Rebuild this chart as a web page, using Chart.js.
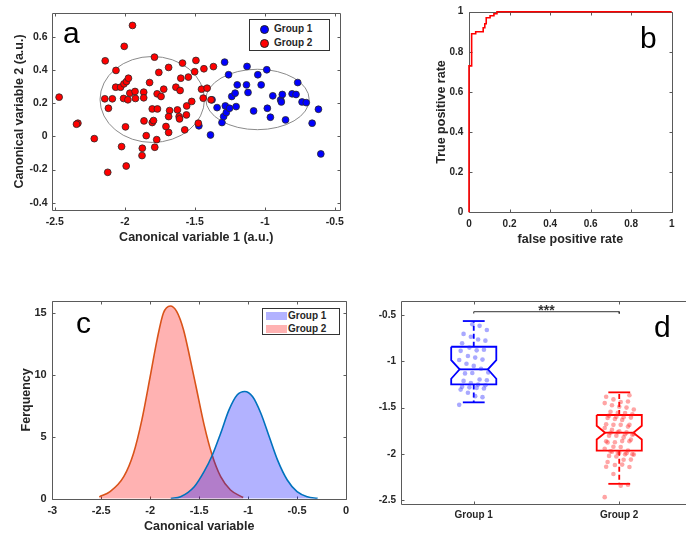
<!DOCTYPE html>
<html>
<head>
<meta charset="utf-8">
<script src="https://cdn.jsdelivr.net/npm/chart.js@4.4.1/dist/chart.umd.min.js"></script>
<style>
  html, body { margin: 0; padding: 0; background: #fff; overflow: hidden; width: 686px; height: 533px; }
  canvas { position: absolute; }
  .letter { position: absolute; font-family: "Liberation Sans", Arial, sans-serif; font-size: 30px; line-height: 30px; color: #000; }
  .legend { position: absolute; box-sizing: border-box; border: 1px solid #333; background: #fff;
            font: bold 10px "Liberation Sans", Arial, sans-serif; color: #262626; }
  .legend span { position: absolute; line-height: 10px; }
</style>
</head>
<body>
<canvas id="chartA" width="350" height="250" style="left:0;top:0"></canvas>
<canvas id="chartB" width="286" height="250" style="left:400px;top:0"></canvas>
<canvas id="chartC" width="360" height="256" style="left:0;top:280px"></canvas>
<canvas id="chartD" width="340" height="253" style="left:360px;top:280px"></canvas>

<div class="letter" style="left:63px;top:18px">a</div>
<div class="letter" style="left:640px;top:23px">b</div>
<div class="letter" style="left:76px;top:308px">c</div>
<div class="letter" style="left:654px;top:312px">d</div>

<div class="legend" style="left:249px;top:19px;width:81px;height:32px">
  <span style="left:10px;top:5px;width:7px;height:7px;border-radius:50%;background:#0000ff;border:1px solid #222"></span>
  <span style="left:24px;top:4px">Group 1</span>
  <span style="left:10px;top:19px;width:7px;height:7px;border-radius:50%;background:#ff0000;border:1px solid #222"></span>
  <span style="left:24px;top:18px">Group 2</span>
</div>
<div class="legend" style="left:262px;top:308px;width:78px;height:27px">
  <span style="left:3px;top:3px;width:21px;height:8px;background:rgb(178,178,255)"></span>
  <span style="left:25px;top:2px">Group 1</span>
  <span style="left:3px;top:16px;width:21px;height:8px;background:rgb(255,178,178)"></span>
  <span style="left:25px;top:15px">Group 2</span>
</div>

<script>
// panel a: canonical variables of each sample
const group1Cv1 = [-1.471, -1.388, -1.377, -1.341, -1.306, -1.294, -1.287, -1.282, -1.275, -1.259,
                   -1.252, -1.236, -1.212, -1.205, -1.197, -1.127, -1.131, -1.12, -1.08, -1.05,
                   -1.026, -0.986, -0.982, -0.96, -0.943, -0.887, -0.875, -0.882, -0.852, -0.805,
                   -0.777, -0.765, -0.734, -0.704, -0.662, -0.617, -0.6];
const group1Cv2 = [0.063, 0.008, 0.22, 0.173, 0.083, 0.119, 0.447, 0.183, 0.143, 0.371,
                   0.169, 0.24, 0.26, 0.179, 0.31, 0.421, 0.31, 0.264, 0.153, 0.371,
                   0.31, 0.401, 0.169, 0.115, 0.244, 0.22, 0.252, 0.207, 0.099, 0.256,
                   0.252, 0.324, 0.207, 0.203, 0.079, 0.163, -0.106];
const group2Cv1 = [-2.469, -2.335, -2.345, -2.218, -2.14, -2.143, -2.117, -2.122, -2.089, -2.063,
                   -2.065, -2.03, -2.023, -2.004, -2.006, -1.988, -1.974, -2.009, -1.995, -1.99,
                   -1.978, -1.945, -1.964, -1.927, -1.924, -1.865, -1.865, -1.863, -1.875, -1.877,
                   -1.847, -1.823, -1.804, -1.804, -1.795, -1.788, -1.767, -1.772, -1.786, -1.769,
                   -1.757, -1.741, -1.722, -1.706, -1.687, -1.687, -1.68, -1.687, -1.635, -1.624,
                   -1.612, -1.609, -1.605, -1.6, -1.588, -1.572, -1.56, -1.558, -1.546, -1.522,
                   -1.501, -1.492, -1.475, -1.452, -1.435, -1.44, -1.412, -1.384, -1.367];
const group2Cv2 = [0.236, 0.079, 0.073, -0.014, 0.455, 0.226, 0.169, -0.217, 0.226, 0.397,
                   0.296, 0.296, -0.062, 0.542, 0.316, 0.33, 0.35, 0.228, 0.057, -0.179,
                   0.22, 0.668, 0.26, 0.27, 0.228, 0.266, 0.232, 0.093, -0.072, -0.116,
                   0.004, 0.324, 0.165, 0.083, 0.095, 0.477, 0.165, -0.02, -0.066, 0.256,
                   0.385, 0.24, 0.284, 0.059, 0.023, 0.415, 0.155, 0.119, 0.296, 0.159,
                   0.119, 0.105, 0.276, 0.35, 0.441, 0.039, 0.129, 0.183, 0.357, 0.21,
                   0.389, 0.457, 0.079, 0.284, 0.407, 0.23, 0.29, 0.22, 0.42];
// confidence ellipses (group 1, group 2)
const ellipseCx = [-1.052, -1.804];
const ellipseCy = [0.222, 0.222];
const ellipseRx = [0.369, 0.373];
const ellipseRy = [0.182, 0.259];

// panel b: ROC curve
const rocFpr = [0, 0, 0.013, 0.013, 0.033, 0.033, 0.07, 0.07, 0.078, 0.078, 0.085, 0.085, 0.104, 0.104, 0.123, 0.123, 0.138, 0.138, 1];
const rocTpr = [0, 0.73, 0.73, 0.89, 0.89, 0.90, 0.90, 0.92, 0.92, 0.94, 0.94, 0.97, 0.97, 0.98, 0.98, 0.99, 0.99, 1, 1];

// panel c: density of the canonical variable
const dens1X = [-1.79, -1.69, -1.55, -1.45, -1.365, -1.28, -1.195, -1.11, -1.035, -0.955, -0.87, -0.785, -0.70, -0.60, -0.50, -0.395, -0.29];
const dens1Y = [0.02, 0.16, 0.97, 2.19, 3.54, 5.3, 7.19, 8.41, 8.68, 8.27, 6.92, 5.03, 3.14, 1.51, 0.57, 0.16, 0.03];
const dens2X = [-2.52, -2.41, -2.27, -2.17, -2.085, -2.0, -1.93, -1.865, -1.795, -1.73, -1.66, -1.59, -1.53, -1.45, -1.37, -1.28, -1.18, -1.05];
const dens2Y = [0.15, 0.57, 1.78, 3.68, 6.38, 9.89, 12.86, 15.03, 15.6, 15.16, 13.68, 11.24, 9.0, 6.0, 3.6, 1.78, 0.70, 0.1];

// panel d: box plot statistics
const groups = ["Group 1", "Group 2"];
const boxQ3 = [-0.843, -1.581];
const boxMedian = [-1.087, -1.772];
const boxQ1 = [-1.25, -1.967];
const notchHigh = [-0.987, -1.697];
const notchLow = [-1.189, -1.845];
const whiskerHigh = [-0.565, -1.336];
const whiskerLow = [-1.444, -2.325];
const sigLevel = -0.464;
const sigText = "***";

// tick labels
const ticksAX = [-2.5, -2, -1.5, -1, -0.5];
const ticksAY = [-0.4, -0.2, 0, 0.2, 0.4, 0.6];
const ticksB = [0, 0.2, 0.4, 0.6, 0.8, 1];
const ticksCX = [-3, -2.5, -2, -1.5, -1, -0.5, 0];
const ticksCY = [0, 5, 10, 15];
const ticksDX = [1, 2];
const ticksDY = [-2.5, -2, -1.5, -1, -0.5];

Chart.defaults.font.family = '"Liberation Sans", Arial, sans-serif';
Chart.defaults.color = "#262626";
Chart.defaults.animation = false;

const TXT = "#262626";
const FRAME = "#5a5a5a";

function axis(o) {
    return {
        type: "linear",
        min: o.min,
        max: o.max,
        grid: { display: false, drawTicks: false },
        border: { display: false },
        afterBuildTicks: s => { s.ticks = o.ticks.map(v => ({ value: v })); },
        afterFit: s => { if (o.vertical) s.width = o.size; else s.height = o.size; },
        ticks: {
            autoSkip: false, maxRotation: 0, padding: o.pad, color: TXT,
            font: { size: o.font, weight: "bold" },
            callback: o.label || (v => String(v))
        },
        title: o.title ? {
            display: true, text: o.title, color: TXT,
            font: { size: o.titleSize || 12.5, weight: "bold" },
            padding: o.vertical ? { top: o.titlePad, bottom: 0 } : { top: 0, bottom: o.titlePad }
        } : { display: false }
    };
}

// box around the plot area with inward ticks
const framePlugin = {
    id: "frame",
    beforeDatasetsDraw(chart) {
        const { ctx, chartArea: a, scales: { x, y } } = chart;
        const L = Math.round(a.left) + 0.5, R = Math.round(a.right) + 0.5;
        const T = Math.round(a.top) + 0.5, B = Math.round(a.bottom) + 0.5;
        ctx.save();
        ctx.strokeStyle = FRAME;
        ctx.lineWidth = 1;
        ctx.beginPath();
        ctx.rect(L, T, R - L, B - T);
        x.ticks.forEach(t => {
            const p = Math.round(x.getPixelForValue(t.value)) + 0.5;
            ctx.moveTo(p, B); ctx.lineTo(p, B - 3);
            ctx.moveTo(p, T); ctx.lineTo(p, T + 3);
        });
        y.ticks.forEach(t => {
            const p = Math.round(y.getPixelForValue(t.value)) + 0.5;
            ctx.moveTo(L, p); ctx.lineTo(L + 3, p);
            ctx.moveTo(R, p); ctx.lineTo(R - 3, p);
        });
        ctx.stroke();
        ctx.restore();
    }
};

const ellipsePlugin = {
    id: "ellipses",
    beforeDatasetsDraw(chart) {
        const { ctx, scales: { x, y } } = chart;
        ctx.save();
        ctx.strokeStyle = "#8a8a8a";
        ctx.lineWidth = 1;
        ellipseCx.forEach((cx, i) => {
            const px = x.getPixelForValue(cx), py = y.getPixelForValue(ellipseCy[i]);
            const rx = Math.abs(x.getPixelForValue(cx + ellipseRx[i]) - px);
            const ry = Math.abs(y.getPixelForValue(ellipseCy[i] + ellipseRy[i]) - py);
            ctx.beginPath();
            ctx.ellipse(px, py, rx, ry, 0, 0, Math.PI * 2);
            ctx.stroke();
        });
        ctx.restore();
    }
};

const sigPlugin = {
    id: "sig",
    afterDatasetsDraw(chart) {
        const { ctx, scales: { x, y } } = chart;
        ctx.save();
        ctx.fillStyle = "#333";
        ctx.font = 'bold 14px "Liberation Sans", Arial, sans-serif';
        ctx.textAlign = "center";
        ctx.textBaseline = "alphabetic";
        ctx.fillText(sigText, x.getPixelForValue(1.5), y.getPixelForValue(sigLevel) + 3);
        ctx.restore();
    }
};

const noPlugins = { legend: { display: false }, tooltip: { enabled: false } };
const pts = (xs, ys) => xs.map((v, i) => ({ x: v, y: ys[i] }));

// a: scatter of canonical variables
new Chart(document.getElementById("chartA"), {
    type: "scatter",
    data: {
        datasets: [
            { data: pts(group2Cv1, group2Cv2), backgroundColor: "#ff0000", borderColor: "#2a2a2a", borderWidth: 0.8, pointRadius: 3.4 },
            { data: pts(group1Cv1, group1Cv2), backgroundColor: "#0000ff", borderColor: "#2a2a2a", borderWidth: 0.8, pointRadius: 3.4 }
        ]
    },
    options: {
        responsive: false, devicePixelRatio: 1,
        layout: { padding: { left: 0, top: 13, right: 7, bottom: 0 } },
        plugins: noPlugins,
        scales: {
            x: axis({ min: -2.52, max: -0.46, ticks: ticksAX, size: 40, pad: 6, font: 10.5, title: "Canonical variable 1 (a.u.)", titlePad: 4.5 }),
            y: axis({ vertical: true, min: -0.444, max: 0.743, ticks: ticksAY, size: 52, pad: 4.5, font: 10.5, title: "Canonical variable 2 (a.u.)", titlePad: 11.8 })
        }
    },
    plugins: [framePlugin, ellipsePlugin]
});

// b: ROC curve
new Chart(document.getElementById("chartB"), {
    type: "scatter",
    data: {
        datasets: [
            { data: pts(rocFpr, rocTpr), showLine: true, borderColor: "#ff0000", borderWidth: 1.6, pointRadius: 0, clip: false }
        ]
    },
    options: {
        responsive: false, devicePixelRatio: 1,
        layout: { padding: { left: 0, top: 11, right: 14.3, bottom: 0 } },
        plugins: noPlugins,
        scales: {
            x: axis({ min: 0, max: 1, ticks: ticksB, size: 37.7, pad: 6, font: 10, title: "false positive rate", titlePad: 3.2 }),
            y: axis({ vertical: true, min: 0, max: 1, ticks: ticksB, size: 69, pad: 5.7, font: 10, title: "True positive rate", titlePad: 34 })
        }
    },
    plugins: [framePlugin]
});

// c: density curves
new Chart(document.getElementById("chartC"), {
    type: "scatter",
    data: {
        datasets: [
            { data: pts(dens1X, dens1Y), showLine: true, fill: "origin", backgroundColor: "rgba(0,0,255,0.3)",
              borderColor: "#0072bd", borderWidth: 1.6, pointRadius: 0, cubicInterpolationMode: "monotone" },
            { data: pts(dens2X, dens2Y), showLine: true, fill: "origin", backgroundColor: "rgba(255,0,0,0.3)",
              borderColor: "#d95319", borderWidth: 1.6, pointRadius: 0, cubicInterpolationMode: "monotone" }
        ]
    },
    options: {
        responsive: false, devicePixelRatio: 1,
        layout: { padding: { left: 0, top: 21, right: 14, bottom: 0 } },
        plugins: noPlugins,
        scales: {
            x: axis({ min: -3, max: 0, ticks: ticksCX, size: 37.3, pad: 6, font: 11, title: "Canonical variable", titlePad: 1.8 }),
            y: axis({ vertical: true, min: 0, max: 16, ticks: ticksCY, size: 52.3, pad: 5.6, font: 11, title: "Ferquency", titlePad: 19 })
        }
    },
    plugins: [framePlugin]
});

// d: notched box plots with jittered samples
const boxColors = ["#0000ff", "#ff0000"];
const dotColors = ["rgba(40,40,255,0.4)", "rgba(255,30,30,0.4)"];
const groupScores = [group1Cv1, group2Cv1];
const BW = 0.155, NW = 0.097, CAP = 0.075;
const jitter = i => ((((i * 37) % 21) - 10) / 10) * 0.1;

const dDatasets = [];
groupScores.forEach((scores, g) => {
    dDatasets.push({
        data: scores.map((v, i) => ({ x: g + 1 + jitter(i), y: v })),
        backgroundColor: dotColors[g], borderWidth: 0, pointRadius: 2.3
    });
});
groups.forEach((name, g) => {
    const c = g + 1;
    const line = (data, dash) => ({
        data, showLine: true, borderColor: boxColors[g], borderWidth: 1.8,
        pointRadius: 0, borderDash: dash || [], clip: false
    });
    dDatasets.push(line([
        { x: c - BW, y: boxQ3[g] }, { x: c + BW, y: boxQ3[g] }, { x: c + BW, y: notchHigh[g] },
        { x: c + NW, y: boxMedian[g] }, { x: c + BW, y: notchLow[g] }, { x: c + BW, y: boxQ1[g] },
        { x: c - BW, y: boxQ1[g] }, { x: c - BW, y: notchLow[g] }, { x: c - NW, y: boxMedian[g] },
        { x: c - BW, y: notchHigh[g] }, { x: c - BW, y: boxQ3[g] }
    ]));
    dDatasets.push(line([{ x: c - NW, y: boxMedian[g] }, { x: c + NW, y: boxMedian[g] }]));
    dDatasets.push(line([{ x: c, y: boxQ3[g] }, { x: c, y: whiskerHigh[g] }], [5, 3]));
    dDatasets.push(line([{ x: c, y: boxQ1[g] }, { x: c, y: whiskerLow[g] }], [5, 3]));
    dDatasets.push(line([{ x: c - CAP, y: whiskerHigh[g] }, { x: c + CAP, y: whiskerHigh[g] }]));
    dDatasets.push(line([{ x: c - CAP, y: whiskerLow[g] }, { x: c + CAP, y: whiskerLow[g] }]));
});
dDatasets.push({
    data: [{ x: 1, y: sigLevel - 0.02 }, { x: 1, y: sigLevel }, { x: 2, y: sigLevel }, { x: 2, y: sigLevel - 0.02 }],
    showLine: true, borderColor: "#333", borderWidth: 1, pointRadius: 0
});

new Chart(document.getElementById("chartD"), {
    type: "scatter",
    data: { datasets: dDatasets },
    options: {
        responsive: false, devicePixelRatio: 1,
        layout: { padding: { left: 0, top: 20.7, right: 8, bottom: 0 } },
        plugins: noPlugins,
        scales: {
            x: axis({ min: 0.5, max: 2.5, ticks: ticksDX, size: 29, pad: 5.5, font: 10, label: v => groups[v - 1] }),
            y: axis({ vertical: true, min: -2.543, max: -0.345, ticks: ticksDY, size: 41, pad: 5, font: 10 })
        }
    },
    plugins: [framePlugin, sigPlugin]
});
</script>
</body>
</html>
